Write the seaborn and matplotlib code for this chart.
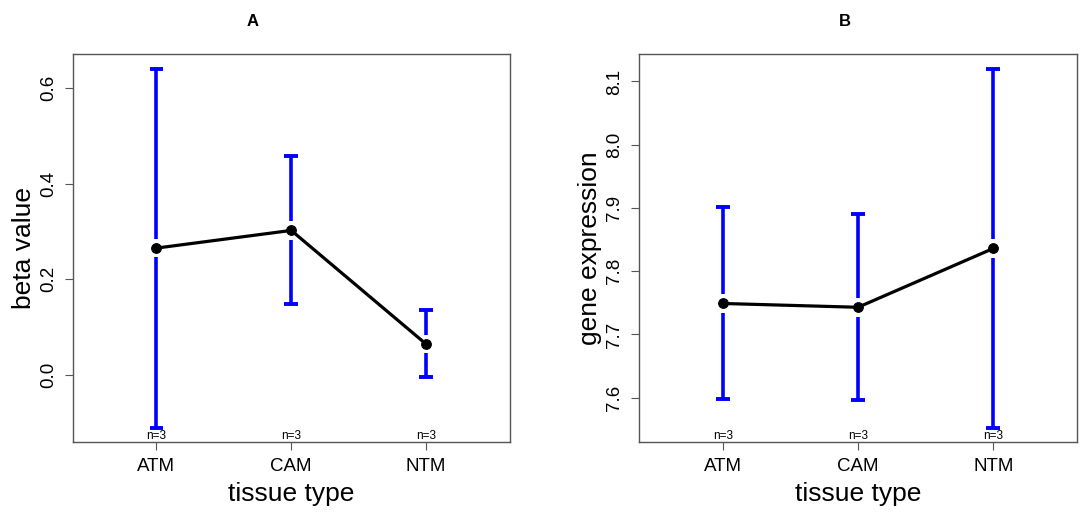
import pandas as pd
import seaborn as sns
import matplotlib
matplotlib.use("Agg")
import matplotlib.pyplot as plt

# tissue groups, same for both panels
tissues = ["ATM", "CAM", "NTM"]
n_labels = ["n=3", "n=3", "n=3"]

# panel A: methylation beta values (mean and 95% CI ends)
beta_mean = [0.265, 0.302, 0.064]
beta_low = [-0.111, 0.147, -0.005]
beta_high = [0.641, 0.458, 0.135]

# panel B: gene expression (mean and 95% CI ends)
expr_mean = [7.749, 7.743, 7.836]
expr_low = [7.598, 7.597, 7.552]
expr_high = [7.901, 7.891, 8.119]

sns.set_theme(style="white")
plt.rcParams['font.family'] = ['Liberation Sans', 'DejaVu Sans']
plt.rcParams['text.color'] = 'black'
plt.rcParams['axes.labelcolor'] = 'black'

FRAME = "#555555"


def plot_means(ax, mean, low, high, ylabel, yticks, ylim):
    pos = list(range(1, len(tissues) + 1))
    df = pd.DataFrame({'pos': pos, 'mean': mean, 'tissue': tissues})

    ax.set_xlim(0.38, 3.62)
    ax.set_ylim(*ylim)

    # error bars with a small gap around the mean point, like gplots::plotmeans
    gap = 0.024 * (ylim[1] - ylim[0])
    cap = 0.05
    for x, m, lo, hi in zip(pos, mean, low, high):
        ax.vlines(x, lo, m - gap, color='#0000FF', lw=2.6, zorder=2)
        ax.vlines(x, m + gap, hi, color='#0000FF', lw=2.6, zorder=2)
        ax.hlines([lo, hi], x - cap, x + cap, color='#0000FF', lw=2.8, zorder=2)

    sns.lineplot(data=df, x='pos', y='mean', ax=ax, color='black', lw=2.3,
                 marker='o', markersize=7, markeredgecolor='black', zorder=3)

    for x, lab in zip(pos, n_labels):
        ax.text(x, ylim[0], lab, ha='center', va='bottom', fontsize=8.5)

    ax.set_xticks(pos)
    ax.set_xticklabels(tissues)
    ax.set_yticks(yticks)
    ax.set_yticklabels([f"{t:.1f}" for t in yticks], rotation=90, va='center')
    ax.tick_params(axis='both', direction='out', length=5.5, width=0.8,
                   color=FRAME, labelcolor='black', labelsize=13.5, pad=6,
                   bottom=True, left=True)
    ax.set_xlabel("tissue type", fontsize=19, labelpad=5)
    ax.set_ylabel(ylabel, fontsize=19, labelpad=3)
    for sp in ax.spines.values():
        sp.set_visible(True)
        sp.set_color(FRAME)
        sp.set_linewidth(1.0)


fig = plt.figure(figsize=(10.84, 5.17), dpi=100)
ax_a = fig.add_axes([0.0671, 0.1451, 0.4031, 0.7505])
ax_b = fig.add_axes([0.5895, 0.1451, 0.4041, 0.7505])

plot_means(ax_a, beta_mean, beta_low, beta_high, "beta value",
           [0.0, 0.2, 0.4, 0.6], (-0.141, 0.6715))
plot_means(ax_b, expr_mean, expr_low, expr_high, "gene expression",
           [7.6, 7.7, 7.8, 7.9, 8.0, 8.1], (7.530, 8.1435))

fig.text(253 / 1084, 1 - 22 / 517, "A", ha='center', va='center',
         fontsize=12, fontweight='bold')
fig.text(845 / 1084, 1 - 22 / 517, "B", ha='center', va='center',
         fontsize=12, fontweight='bold')

fig.savefig("out.png", dpi=100)
